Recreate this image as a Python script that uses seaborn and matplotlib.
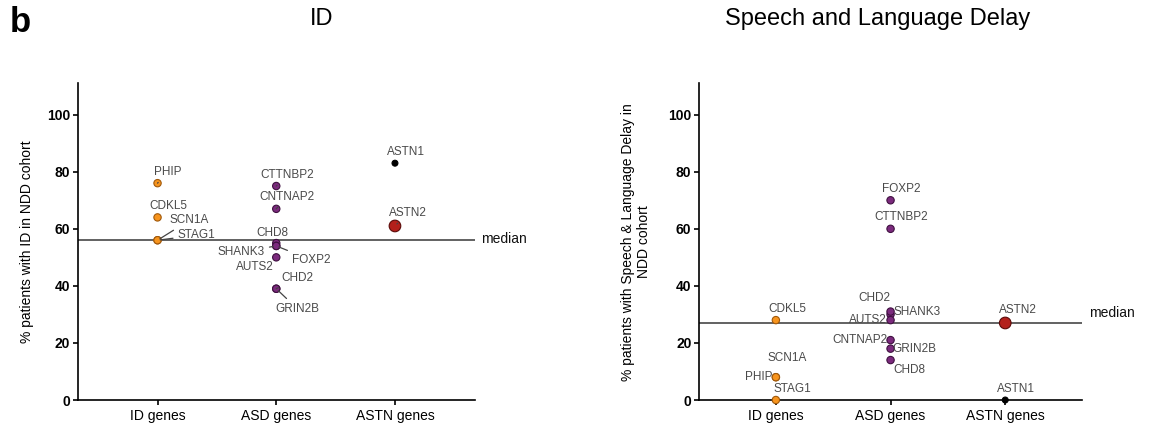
import numpy as np
import matplotlib
matplotlib.use("Agg")
import matplotlib.pyplot as plt
import pandas as pd
import seaborn as sns

sns.set_style("ticks")
plt.rcParams["font.family"] = ["Liberation Sans", "DejaVu Sans"]
plt.rcParams["axes.linewidth"] = 1.2
plt.rcParams["axes.edgecolor"] = "black"
plt.rcParams["axes.labelcolor"] = "black"
plt.rcParams["text.color"] = "black"
plt.rcParams["xtick.color"] = "black"
plt.rcParams["ytick.color"] = "black"
plt.rcParams["xtick.major.width"] = 1.2
plt.rcParams["ytick.major.width"] = 1.2
plt.rcParams["xtick.major.size"] = 3.5
plt.rcParams["ytick.major.size"] = 3.5

#### data ####
groups = ["ID genes", "ASD genes", "ASTN genes"]
id_genes = ["PHIP", "CDKL5", "SCN1A", "STAG1"]
asd_genes = ["CTTNBP2", "CNTNAP2", "CHD8", "SHANK3", "FOXP2", "AUTS2", "CHD2", "GRIN2B"]
astn_genes = ["ASTN1", "ASTN2"]

# % patients with ID
id_pct_id = [76, 64, 56, 56]
asd_pct_id = [75, 67, 55, 54, 54, 50, 39, 39]
astn_pct_id = [83, 61]
median_id = 56

# % patients with speech & language delay
id_pct_sld = [8, 28, 8, 0]
asd_pct_sld = [60, 21, 14, 30, 70, 28, 31, 18]
astn_pct_sld = [0, 27]
median_sld = 27

#### styles ####
palette = {"ID": "#f7941d", "ASD": "#7b2a7d", "ASTN1": "#000000", "ASTN2": "#b3201b"}
edges = {"ID": "#a0580a", "ASD": "#3f1040", "ASTN1": "#000000", "ASTN2": "#5a0a08"}
sizes = {"ID": 28, "ASD": 28, "ASTN1": 18, "ASTN2": 70}

# label offsets in pixels (dx, dy up-positive), and whether a leader line is drawn
labels_id = {
    "PHIP": (10, 11, True), "CDKL5": (11, 11, False), "SCN1A": (32, 20, True),
    "STAG1": (39, 5, True), "CTTNBP2": (11, 11, True), "CNTNAP2": (11, 12, True),
    "CHD8": (-4, 10, False), "SHANK3": (-35, -6, True), "FOXP2": (35, -14, True),
    "AUTS2": (-21, -10, False), "CHD2": (21, 11, True), "GRIN2B": (21, -20, True),
    "ASTN1": (11, 11, False), "ASTN2": (13, 13, True),
}
labels_sld = {
    "PHIP": (-17, 0, False), "CDKL5": (12, 11, False), "SCN1A": (11, 19, False),
    "STAG1": (17, 11, False), "FOXP2": (11, 11, False), "CTTNBP2": (11, 12, False),
    "CHD2": (-16, 14, False), "SHANK3": (27, 2, False), "AUTS2": (-23, 0, False),
    "CNTNAP2": (-31, 0, False), "GRIN2B": (24, 0, False), "CHD8": (19, -10, False),
    "ASTN1": (11, 11, False), "ASTN2": (13, 13, False),
}


def make_frame(id_vals, asd_vals, astn_vals):
    df = pd.DataFrame({
        "gene": id_genes + asd_genes + astn_genes,
        "group": [groups[0]] * len(id_genes) + [groups[1]] * len(asd_genes) + [groups[2]] * len(astn_genes),
        "kind": ["ID"] * len(id_genes) + ["ASD"] * len(asd_genes) + astn_genes,
        "pct": id_vals + asd_vals + astn_vals,
    })
    return df


def draw_panel(ax, df, median, labels, ylabel, median_dy):
    sns.scatterplot(data=df, x="group", y="pct", hue="kind", size="kind",
                    palette=palette, sizes=sizes, legend=False, linewidth=0.8,
                    zorder=3, ax=ax, clip_on=False)
    coll = ax.collections[0]
    coll.set_edgecolors([edges[k] for k in df["kind"]])

    ax.axhline(median, color="#555555", lw=1.3, zorder=2)
    ax.annotate("median", xy=(1, median), xycoords=("axes fraction", "data"),
                xytext=(5, median_dy), textcoords="offset points",
                ha="left", va="center", fontsize=10, color="#111111")

    for _, r in df.iterrows():
        dx, dy, line = labels[r["gene"]]
        arrow = dict(arrowstyle="-", color="#444444", lw=0.9, shrinkA=1, shrinkB=2) if line else None
        ax.annotate(r["gene"], xy=(r["group"], r["pct"]), xytext=(dx * 0.72, dy * 0.72),
                    textcoords="offset points", ha="center", va="center",
                    fontsize=8.5, color="#4a4a4a", arrowprops=arrow, zorder=4)

    ax.set_xlim(-0.67, 2.67)
    ax.set_ylim(0, 111)
    ax.set_yticks([0, 20, 40, 60, 80, 100])
    ax.set_xlabel("")
    ax.set_ylabel(ylabel, fontsize=10)
    ax.tick_params(axis="y", labelsize=10, pad=2)
    ax.tick_params(axis="x", labelsize=10, pad=3)
    for t in ax.get_yticklabels():
        t.set_fontweight("bold")
    ax.spines["right"].set_visible(False)
    ax.spines["top"].set_visible(False)


fig = plt.figure(figsize=(11.52, 4.25), dpi=100)
ax1 = fig.add_axes([0.0677, 0.0588, 0.3442, 0.7452])
ax2 = fig.add_axes([0.6068, 0.0588, 0.3325, 0.7452])

draw_panel(ax1, make_frame(id_pct_id, asd_pct_id, astn_pct_id), median_id, labels_id,
           "% patients with ID in NDD cohort", 1)
draw_panel(ax2, make_frame(id_pct_sld, asd_pct_sld, astn_pct_sld), median_sld, labels_sld,
           "% patients with Speech & Language Delay in\nNDD cohort", 7)

ax1.yaxis.set_label_coords(-0.111, 0.5)
ax2.yaxis.set_label_coords(-0.125, 0.5)

fig.text(322 / 1152, 1 - 19 / 425, "ID", ha="center", va="center", fontsize=17)
fig.text(878 / 1152, 1 - 19 / 425, "Speech and Language Delay", ha="center", va="center", fontsize=17)
fig.text(10 / 1152, 1 - 23 / 425, "b", ha="left", va="center", fontsize=25, fontweight="bold")

fig.savefig("out.png", dpi=100)
